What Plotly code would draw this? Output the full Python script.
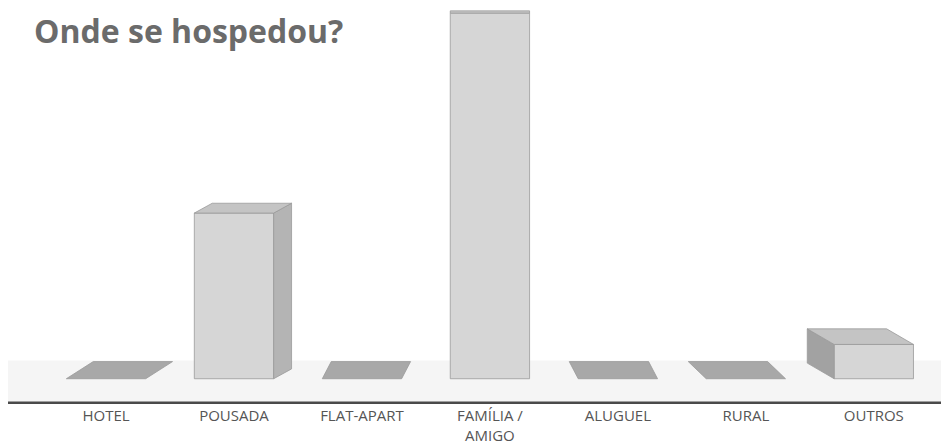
import plotly.graph_objects as go

# Data
categories = ["HOTEL", "POUSADA", "FLAT-APART", "FAMÍLIA /<br>AMIGO", "ALUGUEL", "RURAL", "OUTROS"]
values = [0, 29, 0, 64, 0, 0, 6]

title_text = "Onde se hospedou?"

fig = go.Figure()

n = len(categories)
center = (n - 1) / 2
half_w = 0.31
depth_x = 0.07
depth_y0 = 3.0

front_col = "#d6d6d6"
side_col = "#b4b4b4"
top_col = "#c4c4c4"
flat_col = "#a8a8a8"
edge_col = "#9a9a9a"


def poly(xs, ys, fill, line=edge_col):
    fig.add_trace(go.Scatter(
        x=xs + [xs[0]], y=ys + [ys[0]], fill="toself", fillcolor=fill,
        mode="lines", line=dict(color=line, width=0.8),
        hoverinfo="skip", showlegend=False))


for i, v in enumerate(values):
    dx = depth_x * (center - i)
    dy = max(0.4, depth_y0 * (1 - v / 68))
    xl, xr = i - half_w, i + half_w
    if v == 0:
        poly([xl, xr, xr + dx, xl + dx], [0, 0, dy, dy], flat_col, "#999999")
        continue
    # side face
    if dx > 0:
        poly([xr, xr + dx, xr + dx, xr], [0, dy, v + dy, v], side_col)
    elif dx < 0:
        poly([xl, xl + dx, xl + dx, xl], [0, dy, v + dy, v], "#a2a2a2")
    # top face
    poly([xl, xr, xr + dx, xl + dx], [v, v, v + dy, v + dy], top_col)
    # front face
    fig.add_trace(go.Bar(
        x=[i], y=[v], width=2 * half_w, marker=dict(color=front_col, line=dict(color=edge_col, width=0.8)),
        hoverinfo="skip", showlegend=False))

fig.update_layout(
    width=949, height=447,
    margin=dict(l=0, r=0, t=0, b=50),
    paper_bgcolor="white", plot_bgcolor="white",
    barmode="overlay",
    xaxis=dict(range=[-0.766, 6.65], tickmode="array", tickvals=list(range(n)), ticktext=categories,
               showgrid=False, zeroline=False, showline=False, ticks="",
               tickfont=dict(family="Open Sans, sans-serif", size=15, color="#555555")),
    yaxis=dict(range=[-4.6, 64.9], visible=False),
    shapes=[
        dict(type="rect", xref="paper", x0=0, x1=1, yref="y", y0=-4.1, y1=3.2,
             fillcolor="#f5f5f5", line=dict(width=0), layer="below"),
        dict(type="line", xref="paper", x0=0, x1=1, yref="y", y0=-4.2, y1=-4.2,
             line=dict(color="#4a4a4a", width=2.5)),
    ],
    annotations=[dict(text="<b>" + title_text + "</b>", xref="paper", yref="paper",
                      x=0.025, y=1.0, xanchor="left", yanchor="top", yshift=1, showarrow=False,
                      font=dict(family="Open Sans, sans-serif", size=32, color="#6b6b6b"))],
)

fig.write_html("out.html")
